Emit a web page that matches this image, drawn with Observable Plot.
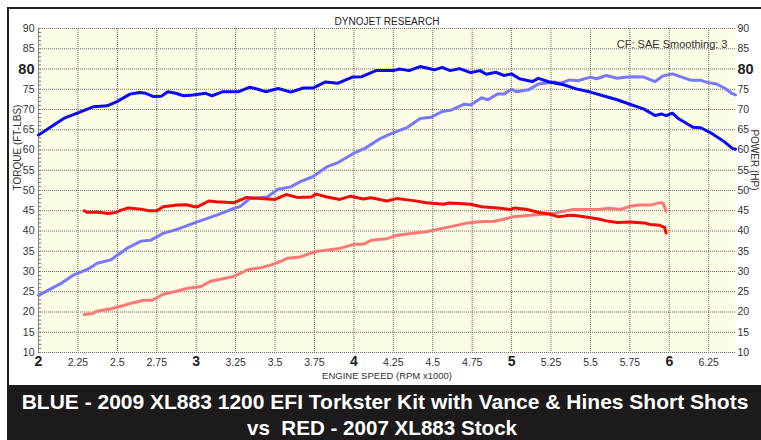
<!DOCTYPE html>
<html><head><meta charset="utf-8">
<script src="https://cdn.jsdelivr.net/npm/d3@7"></script>
<script src="https://cdn.jsdelivr.net/npm/@observablehq/plot@0.6"></script>
<style>body{margin:0;background:#fff;overflow:hidden} svg{display:block}</style>
</head><body><div id="chart"></div>
<script>
// ---- data read from the dyno sheet ----
const blueTqRpm = [2.00,2.16,2.27,2.35,2.435,2.50,2.58,2.64,2.68,2.73,2.78,2.82,2.87,2.92,2.98,3.06,3.10,3.17,3.27,3.34,3.39,3.44,3.52,3.60,3.68,3.74,3.82,3.90,3.99,4.05,4.14,4.25,4.29,4.35,4.42,4.51,4.56,4.61,4.67,4.74,4.80,4.84,4.90,4.95,5.00,5.05,5.13,5.17,5.24,5.33,5.41,5.50,5.58,5.67,5.75,5.84,5.91,5.95,5.98,6.02,6.06,6.15,6.20,6.26,6.34,6.40,6.42];
const blueTq = [63.7,67.8,69.5,70.7,70.9,72.0,73.8,74.2,74.0,73.2,73.3,74.4,74.0,73.4,73.6,74.0,73.4,74.4,74.4,75.5,75.0,74.4,75.2,74.3,75.3,75.3,76.8,76.5,78.0,78.1,79.6,79.6,80.0,79.6,80.6,79.8,80.4,79.6,80.1,79.1,79.6,78.7,79.2,78.4,78.8,77.6,76.9,77.7,76.8,76.1,75.1,74.3,73.4,72.4,71.3,70.1,68.5,68.9,68.5,69.1,67.7,65.6,65.5,64.3,62.3,60.4,60.2];
const bluePwRpm = [2.00,2.14,2.22,2.31,2.37,2.46,2.50,2.56,2.65,2.71,2.79,2.88,2.98,3.07,3.13,3.22,3.28,3.34,3.45,3.52,3.60,3.66,3.74,3.83,3.90,4.00,4.07,4.17,4.24,4.34,4.42,4.49,4.56,4.62,4.70,4.74,4.81,4.85,4.91,4.95,5.00,5.03,5.11,5.17,5.27,5.31,5.37,5.42,5.50,5.54,5.60,5.67,5.75,5.84,5.91,5.96,6.02,6.07,6.14,6.20,6.24,6.30,6.35,6.40,6.42];
const bluePw = [24.1,27.0,29.1,30.5,32.0,32.9,34.0,35.7,37.5,37.7,39.4,40.4,41.9,43.1,43.9,45.3,46.1,48.0,48.4,50.3,50.9,52.2,53.4,55.9,56.9,59.2,60.4,62.9,64.1,65.6,67.8,68.1,69.5,69.9,71.3,71.1,72.9,72.4,73.8,73.8,75.0,74.4,74.9,76.3,76.8,76.5,77.3,77.1,78.0,77.6,78.4,77.7,78.1,78.0,76.9,78.3,78.8,78.1,77.2,77.2,76.7,76.3,75.3,73.9,73.6];
const redTqRpm = [2.29,2.31,2.37,2.44,2.49,2.52,2.57,2.65,2.70,2.75,2.79,2.88,2.94,2.99,3.01,3.08,3.13,3.24,3.32,3.41,3.50,3.57,3.64,3.73,3.76,3.83,3.91,3.98,4.06,4.11,4.21,4.27,4.38,4.46,4.57,4.60,4.67,4.74,4.81,4.93,4.99,5.02,5.10,5.18,5.24,5.30,5.35,5.39,5.46,5.56,5.60,5.67,5.75,5.84,5.88,5.94,5.97,5.98];
const redTq = [45.0,44.6,44.7,44.3,44.6,45.1,45.7,45.4,45.0,45.0,46.0,46.4,46.5,46.0,46.0,47.4,47.2,47.0,48.3,48.0,47.8,49.0,48.3,48.4,49.1,48.4,47.8,48.6,47.9,48.2,47.4,48.0,47.5,47.0,46.6,46.9,46.8,46.6,46.0,45.6,45.3,45.7,45.3,44.5,44.2,43.5,43.8,43.9,43.5,42.9,42.5,42.1,42.2,42.0,41.6,41.4,40.9,39.5];
const redPwRpm = [2.29,2.34,2.37,2.46,2.54,2.60,2.67,2.72,2.75,2.79,2.88,2.94,3.03,3.09,3.17,3.24,3.33,3.41,3.48,3.53,3.58,3.66,3.72,3.77,3.91,4.00,4.06,4.11,4.21,4.27,4.36,4.46,4.53,4.63,4.72,4.80,4.89,4.95,5.01,5.10,5.18,5.27,5.33,5.39,5.48,5.56,5.62,5.69,5.75,5.81,5.88,5.94,5.96,5.98];
const redPw = [19.4,19.6,20.2,20.8,21.6,22.3,22.9,22.9,23.5,24.4,25.2,25.8,26.3,27.6,28.2,28.8,30.5,30.9,31.7,32.4,33.3,33.6,34.4,35.0,35.7,36.7,36.7,37.7,38.1,38.9,39.4,39.8,40.4,41.2,42.0,42.3,42.4,42.9,43.5,43.8,44.1,44.3,44.9,45.3,45.3,45.4,45.6,45.3,46.1,46.4,46.4,47.0,46.9,44.9];

const xTicks = [2,2.25,2.5,2.75,3,3.25,3.5,3.75,4,4.25,4.5,4.75,5,5.25,5.5,5.75,6,6.25];
const xMajor = [2,3,4,5,6];
const yTicks = [10,15,20,25,30,35,40,45,50,55,60,65,70,75,80,85,90];
const yMajor = [80];
const yMinor = d3.range(10, 91, 1);

const titleText = "DYNOJET RESEARCH";
const noteText = "CF: SAE Smoothing: 3";
const xLabel = "ENGINE SPEED (RPM x1000)";
const yLeftLabel = "TORQUE (FT-LBS)";
const yRightLabel = "POWER (HP)";
const bandLine1 = "BLUE - 2009 XL883 1200 EFI Torkster Kit with Vance & Hines Short Shots";
const bandLine2 = "vs  RED - 2007 XL883 Stock";

const pts = (xs, ys) => xs.map((x, i) => ({x, y: ys[i]}));
const fmt = d => String(d);
const font = "'Liberation Sans', Arial, Helvetica, sans-serif";
const gridStyle = {stroke: "#6a6a6a", strokeOpacity: 1, strokeDasharray: "1,1", strokeWidth: 1};
const lineStyle = {x: "x", y: "y", strokeWidth: 3, strokeLinejoin: "round", strokeLinecap: "round"};

const chart = Plot.plot({
  width: 761, height: 440,
  marginLeft: 38, marginRight: 26, marginTop: 28, marginBottom: 88,
  style: {fontFamily: font, background: "#fff", color: "#333", overflow: "visible"},
  x: {domain: [2, 6.42]},
  y: {domain: [10, 90]},
  marks: [
    Plot.frame({fill: "#fefde6", stroke: null}),
    Plot.gridX(xTicks.filter(d => d > 2), gridStyle),
    Plot.gridY(yTicks, gridStyle),
    Plot.ruleX([2], {stroke: "#888", strokeWidth: 1}),
    Plot.axisY({anchor: "left", ticks: yMinor, tickSize: -3, tickFormat: () => "", stroke: "#777", label: null}),
    Plot.axisY({anchor: "left", ticks: yTicks.filter(d => !yMajor.includes(d)), tickFormat: fmt, tickSize: 0, tickPadding: 4, fontSize: 10.5, label: null, fill: "#333"}),
    Plot.axisY({anchor: "left", ticks: yMajor, tickFormat: fmt, tickSize: 0, tickPadding: 4, fontSize: 14.5, fontWeight: "bold", label: null, fill: "#222"}),
    Plot.axisY({anchor: "right", ticks: yTicks.filter(d => !yMajor.includes(d)), tickFormat: fmt, tickSize: 0, tickPadding: 2, fontSize: 10.5, label: null, fill: "#333"}),
    Plot.axisY({anchor: "right", ticks: yMajor, tickFormat: fmt, tickSize: 0, tickPadding: 2, fontSize: 14.5, fontWeight: "bold", label: null, fill: "#222"}),
    Plot.axisX({anchor: "bottom", ticks: xTicks.filter(d => !xMajor.includes(d)), tickFormat: fmt, tickSize: 0, tickPadding: 6, fontSize: 10.5, label: null, fill: "#333"}),
    Plot.axisX({anchor: "bottom", ticks: xMajor, tickFormat: fmt, tickSize: 0, tickPadding: 4, fontSize: 14, fontWeight: "bold", label: null, fill: "#222"}),
    Plot.line(pts(bluePwRpm, bluePw), {...lineStyle, stroke: "#7878ff"}),
    Plot.line(pts(redPwRpm, redPw), {...lineStyle, stroke: "#ff7878"}),
    Plot.line(pts(blueTqRpm, blueTq), {...lineStyle, stroke: "#0a0af5"}),
    Plot.line(pts(redTqRpm, redTq), {...lineStyle, stroke: "#f50a0a"}),
    Plot.text([titleText], {frameAnchor: "top", dy: -11, fontSize: 10, fill: "#222"}),
    Plot.text([noteText], {frameAnchor: "top-right", dx: -8, dy: 12, textAnchor: "end", fontSize: 11, fill: "#333"}),
    Plot.text([xLabel], {frameAnchor: "bottom", dy: 26, fontSize: 9.5, fill: "#333"}),
    Plot.text([yLeftLabel], {frameAnchor: "left", dx: -21, rotate: -90, fontSize: 10, fill: "#333"}),
    Plot.text([yRightLabel], {frameAnchor: "right", dx: 19, rotate: 90, fontSize: 10, fill: "#333"})
  ]
});

// frame around the sheet (its right side runs past the picture) and black caption band
const svg = d3.select(chart);
svg.insert("rect", ":first-child")
  .attr("x", 8).attr("y", 8).attr("width", 800).attr("height", 440)
  .attr("fill", "#fff").attr("stroke", "#222").attr("stroke-width", 2);
const band = svg.append("g");
band.append("rect").attr("x", 8).attr("y", 385).attr("width", 753).attr("height", 55).attr("fill", "#1c1a1a");
band.append("text").attr("x", 385).attr("y", 402).attr("dy", "0.35em").attr("text-anchor", "middle")
  .attr("fill", "#fff").attr("font-weight", "bold").attr("font-size", 21).attr("font-family", font).text(bandLine1);
band.append("text").attr("x", 382).attr("y", 428).attr("dy", "0.35em").attr("text-anchor", "middle")
  .attr("fill", "#fff").attr("font-weight", "bold").attr("font-size", 20.6).attr("font-family", font).text(bandLine2);

document.getElementById("chart").appendChild(chart);
</script></body></html>
